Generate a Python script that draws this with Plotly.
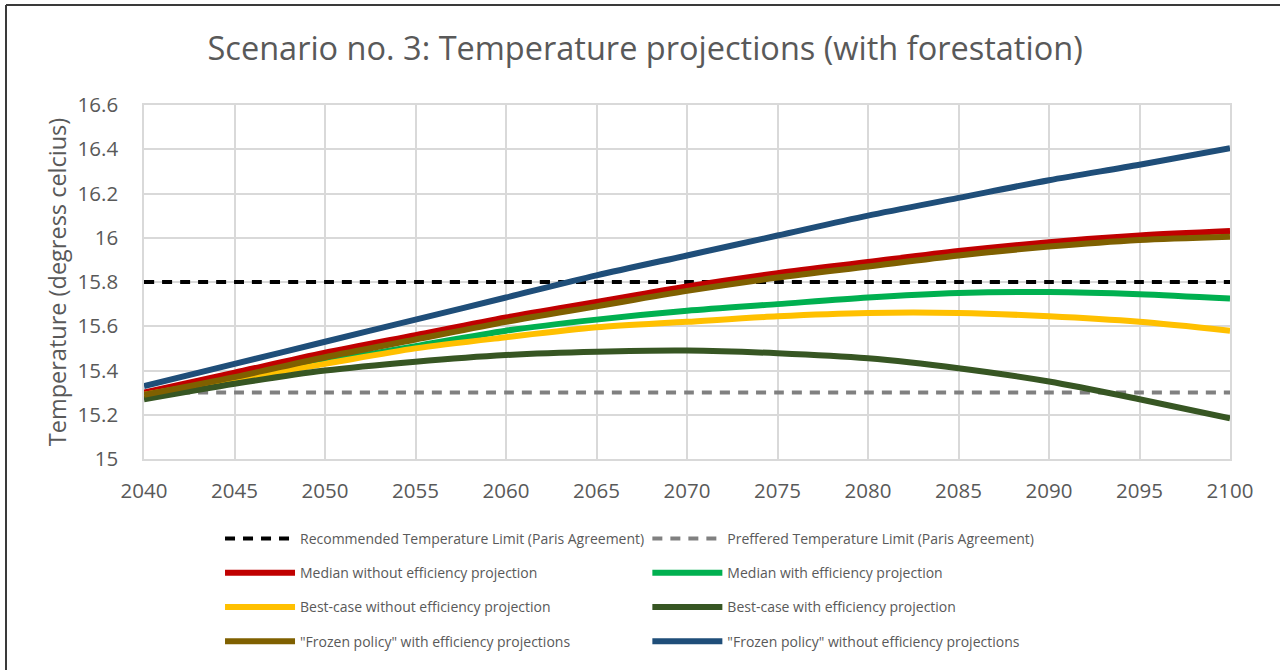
import plotly.graph_objects as go

years = [2040, 2045, 2050, 2055, 2060, 2065, 2070, 2075, 2080, 2085, 2090, 2095, 2100]

recommended_limit = [15.8] * 13
preferred_limit = [15.3] * 13
median_without = [15.30, 15.39, 15.48, 15.56, 15.64, 15.71, 15.78, 15.84, 15.89, 15.94, 15.98, 16.01, 16.03]
median_with = [15.28, 15.36, 15.44, 15.51, 15.58, 15.63, 15.67, 15.70, 15.73, 15.75, 15.755, 15.745, 15.725]
best_without = [15.29, 15.36, 15.43, 15.50, 15.55, 15.595, 15.62, 15.645, 15.66, 15.66, 15.645, 15.62, 15.58]
best_with = [15.27, 15.34, 15.40, 15.44, 15.47, 15.485, 15.49, 15.478, 15.455, 15.41, 15.35, 15.27, 15.184]
frozen_with = [15.29, 15.37, 15.46, 15.54, 15.62, 15.69, 15.76, 15.82, 15.87, 15.92, 15.96, 15.99, 16.005]
frozen_without = [15.33, 15.43, 15.53, 15.63, 15.73, 15.83, 15.92, 16.01, 16.10, 16.18, 16.26, 16.33, 16.405]

TEXT = "#595959"
GRID = "#D9D9D9"
FONT = "Open Sans"

series = [
    ("Recommended Temperature Limit (Paris Agreement)", recommended_limit, "#000000", 4, "10px,8px", "legend"),
    ("Preffered Temperature Limit (Paris Agreement)", preferred_limit, "#808080", 4, "10px,8px", "legend2"),
    ("Median without efficiency projection", median_without, "#C00000", 6, "solid", "legend"),
    ("Median with efficiency projection", median_with, "#00B050", 6, "solid", "legend2"),
    ("Best-case without efficiency projection", best_without, "#FFC000", 6, "solid", "legend"),
    ("Best-case with efficiency projection", best_with, "#375623", 6, "solid", "legend2"),
    ("\"Frozen policy\" with efficiency projections", frozen_with, "#7F6000", 6, "solid", "legend"),
    ("\"Frozen policy\" without efficiency projections", frozen_without, "#1F4E79", 6, "solid", "legend2"),
]

fig = go.Figure()
for i, (name, vals, color, width, dash, leg) in enumerate(series):
    fig.add_trace(go.Scatter(
        x=years, y=vals, name=name, mode="lines",
        line=dict(color=color, width=width, dash=dash, shape="spline", smoothing=0.8),
        legend=leg, legendgroup=f"g{i}",
    ))

legend_style = dict(
    orientation="v", yanchor="top", xanchor="left",
    font=dict(family=FONT, size=14, color=TEXT),
    itemwidth=70, tracegroupgap=13, bgcolor="rgba(0,0,0,0)",
)

fig.update_layout(
    width=1280, height=670,
    margin=dict(l=144, r=50, t=105, b=211),
    paper_bgcolor="white", plot_bgcolor="white",
    title=dict(
        text="Scenario no. 3: Temperature projections (with forestation)",
        x=0.504, xanchor="center", y=0.928, yanchor="middle",
        font=dict(family=FONT, size=32.5, color=TEXT),
    ),
    legend=dict(x=0.070, y=-0.1808, **legend_style),
    legend2=dict(x=0.4635, y=-0.1808, **legend_style),
    xaxis=dict(
        range=[2040, 2100], dtick=5, tick0=2040,
        showgrid=True, gridcolor=GRID, gridwidth=1.5,
        showline=True, linecolor=GRID, linewidth=1.5, mirror=True,
        zeroline=False, ticks="", ticklabelstandoff=13,
        tickfont=dict(family=FONT, size=20.5, color=TEXT),
    ),
    yaxis=dict(
        range=[15, 16.6], dtick=0.2, tick0=15,
        showgrid=True, gridcolor=GRID, gridwidth=1.5,
        showline=True, linecolor=GRID, linewidth=1.5, mirror=True,
        zeroline=False, ticks="", ticklabelstandoff=20,
        tickfont=dict(family=FONT, size=20.5, color=TEXT),
        title=dict(text="Temperature (degress celcius)", standoff=4,
                   font=dict(family=FONT, size=23.5, color=TEXT)),
    ),
)

# Outer chart frame (top and left edges)
fx = (6 - 144) / 1086
fy = (459 - 5) / 354
fig.add_shape(type="line", xref="paper", yref="paper",
              x0=fx, x1=(1280 - 144) / 1086, y0=fy, y1=fy,
              line=dict(color="#3A3A3A", width=2))
fig.add_shape(type="line", xref="paper", yref="paper",
              x0=fx, x1=fx, y0=fy, y1=(459 - 670) / 354,
              line=dict(color="#3A3A3A", width=2))

fig.write_html("out.html")
